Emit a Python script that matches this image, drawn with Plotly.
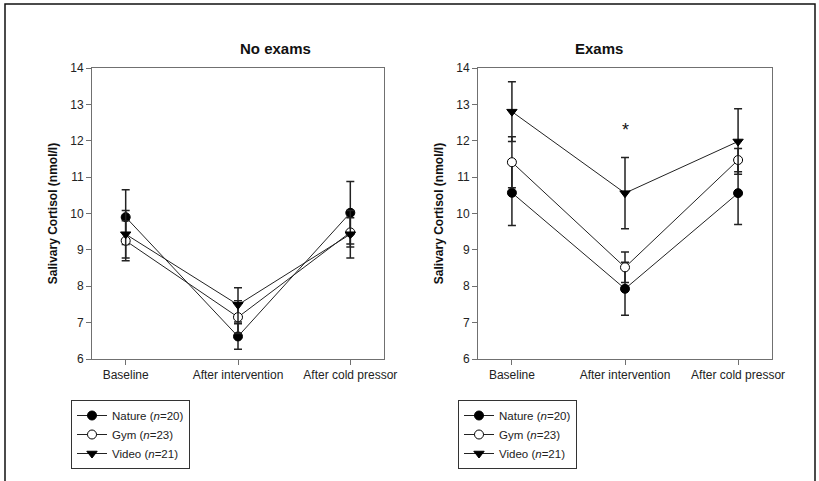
import plotly.graph_objects as go

categories = ["Baseline", "After intervention", "After cold pressor"]
groups = ["Nature", "Gym", "Video"]
group_n = [20, 23, 21]

# No exams panel
noexam_mean = {
    "Nature": [9.90, 6.62, 10.02],
    "Gym": [9.25, 7.15, 9.48],
    "Video": [9.43, 7.49, 9.43],
}
noexam_err = {
    "Nature": [0.75, 0.35, 0.86],
    "Gym": [0.55, 0.45, 0.40],
    "Video": [0.65, 0.47, 0.65],
}
# Exams panel
exam_mean = {
    "Nature": [10.57, 7.93, 10.56],
    "Gym": [11.41, 8.52, 11.47],
    "Video": [12.80, 10.56, 11.98],
}
exam_err = {
    "Nature": [0.90, 0.73, 0.86],
    "Gym": [0.70, 0.42, 0.32],
    "Video": [0.82, 0.98, 0.90],
}
sig_category = ["After intervention"]
sig_y = [12.3]

y_ticks = [6, 7, 8, 9, 10, 11, 12, 13, 14]

styles = {
    "Nature": dict(symbol="circle", color="black", line=dict(color="black", width=1)),
    "Gym": dict(symbol="circle", color="white", line=dict(color="black", width=1)),
    "Video": dict(symbol="triangle-down", color="black", line=dict(color="black", width=1)),
}

FONT = "Liberation Sans, Arial, sans-serif"

fig = go.Figure()

cat_idx = list(range(len(categories)))

def add_panel(means, errs, xa, ya, legend):
    for g, n in zip(groups, group_n):
        fig.add_trace(go.Scatter(
            x=cat_idx, y=means[g],
            mode="lines+markers",
            name=f"{g} (<i>n</i>={n})",
            line=dict(color="#222222", width=1),
            marker=dict(size=9, **styles[g]),
            error_y=dict(type="data", array=errs[g], visible=True,
                         color="#222222", thickness=1.5, width=4),
            xaxis=xa, yaxis=ya, legend=legend,
        ))

add_panel(noexam_mean, noexam_err, "x", "y", "legend")
add_panel(exam_mean, exam_err, "x2", "y2", "legend2")

axis_common = dict(
    showgrid=False, zeroline=False, showline=True, linecolor="#707070",
    linewidth=1, mirror=True, ticks="outside", ticklen=5, tickcolor="#707070",
    automargin=False,
    tickfont=dict(family=FONT, size=12, color="#222222"),
)

xcommon = dict(axis_common, tickmode="array", tickvals=cat_idx, ticktext=categories,
               range=[-0.30, 2.30])
ycommon = dict(axis_common, tickmode="array", tickvals=y_ticks,
               ticktext=[str(t) for t in y_ticks], range=[6, 14],
               title=dict(text="<b>Salivary Cortisol (nmol/l)</b>",
                          font=dict(family=FONT, size=12, color="#111111"),
                          standoff=10))

legend_common = dict(
    bordercolor="#333333", borderwidth=1, bgcolor="white",
    font=dict(family=FONT, size=11.5, color="#222222"),
    xanchor="left", yanchor="top", itemclick=False, tracegroupgap=0,
)

fig.update_layout(
    template="plotly_white",
    width=819, height=481,
    margin=dict(l=0, r=0, t=0, b=0, autoexpand=False),
    paper_bgcolor="white", plot_bgcolor="white",
    showlegend=True,
    xaxis=dict(xcommon, domain=[92/819, 384/819], anchor="y"),
    yaxis=dict(ycommon, domain=[1-359/481, 1-68/481], anchor="x"),
    xaxis2=dict(xcommon, domain=[478/819, 772/819], anchor="y2"),
    yaxis2=dict(ycommon, domain=[1-359/481, 1-68/481], anchor="x2"),
    legend=dict(legend_common, x=71/819, y=1-400/481),
    legend2=dict(legend_common, x=458/819, y=1-400/481),
    annotations=[
        dict(text="<b>No exams</b>", x=238/819, y=1-38/481, xref="paper", yref="paper",
             showarrow=False, font=dict(family=FONT, size=15, color="#111111")),
        dict(text="<b>Exams</b>", x=625/819, y=1-38/481, xref="paper", yref="paper",
             showarrow=False, font=dict(family=FONT, size=15, color="#111111")),
    ] + [
        dict(text="*", x=categories.index(c), y=yv, xref="x2", yref="y2", showarrow=False,
             font=dict(family=FONT, size=18, color="#111111"))
        for c, yv in zip(sig_category, sig_y)
    ],
    shapes=[dict(type="rect", xref="paper", yref="paper", x0=5/819, x1=815/819,
                 y0=-0.02, y1=1-4/481, line=dict(color="#111111", width=1.5))],
)

fig.write_html("out.html", config={"displayModeBar": False},
               post_script="document.body.style.margin='0px';document.body.style.overflow='hidden';")
